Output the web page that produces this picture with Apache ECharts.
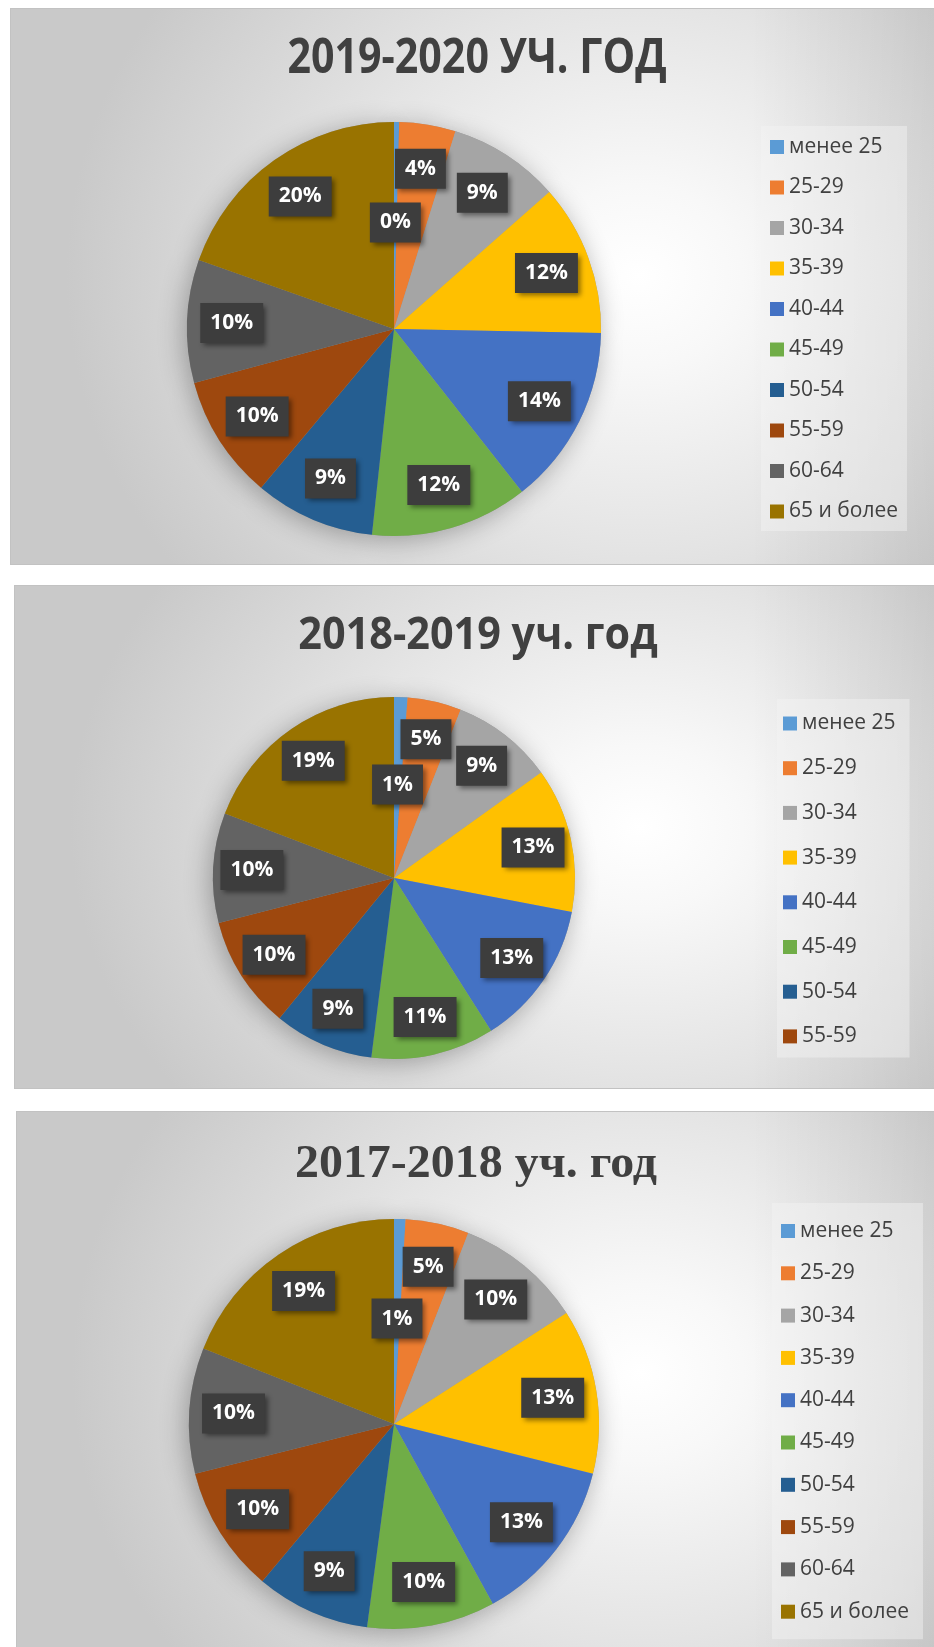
<!DOCTYPE html>
<html>
<head>
<meta charset="utf-8">
<script src="https://cdn.jsdelivr.net/npm/echarts@6/dist/echarts.min.js"></script>
<style>
  html, body { margin: 0; padding: 0; background: #fff; overflow: hidden; width: 934px; height: 1647px; }
  .panel {
    position: absolute;
    box-sizing: border-box;
    border: 1px solid #c2c2c2;
    border-right: none;
    background:
      linear-gradient(to right, rgba(0,0,0,0) 80%, rgba(0,0,0,0.08) 100%),
      radial-gradient(ellipse 62% 90% at 68% 48%, #ffffff 0%, #f8f8f8 18%, #e4e4e4 55%, #c9c9c9 100%);
  }
  .panel .chart { position: absolute; left: 0; top: 0; right: 0; bottom: 0; }
  #p1 { left: 10px; top: 8px; width: 924px; height: 557px; }
  #p2 { left: 14px; top: 585px; width: 920px; height: 504px; }
  #p3 { left: 16px; top: 1111px; width: 918px; height: 545px; }
</style>
</head>
<body>
<div class="panel" id="p1"><div class="chart" id="chart-2019"></div></div>
<div class="panel" id="p2"><div class="chart" id="chart-2018"></div></div>
<div class="panel" id="p3"><div class="chart" id="chart-2017"></div></div>
<script>
var ageGroups = ['менее 25', '25-29', '30-34', '35-39', '40-44', '45-49', '50-54', '55-59', '60-64', '65 и более'];
var ageColors = ['#5B9BD5', '#ED7D31', '#A5A5A5', '#FFC000', '#4472C4', '#70AD47', '#255E91', '#9E480E', '#636363', '#997300'];

// share of teachers by age group, %
var share2019 = [0.4, 4.4, 8.7, 11.8, 14.1, 12.3, 9.4, 9.7, 9.6, 19.6];
var share2018 = [1.2, 4.8, 9.1, 12.9, 13.0, 11.0, 8.9, 10.1, 9.8, 19.2];
var share2017 = [0.9, 5.0, 10.0, 13.0, 13.1, 10.1, 9.0, 10.0, 9.9, 19.0];

var titles = ['2019-2020 УЧ. ГОД', '2018-2019 уч. год', '2017-2018 уч. год'];
// the middle chart's legend is cut off after 55-59
var legend2019 = ageGroups;
var legend2018 = ageGroups.slice(0, 8);
var legend2017 = ageGroups;

(function() {
  var ink = '#404040';

  function pctLabel(p) { return Math.round(p.percent) + '%'; }

  var labelBox = {
    position: 'inside',
    formatter: pctLabel,
    color: '#ffffff',
    fontFamily: 'Open Sans, sans-serif',
    fontWeight: 'bold',
    fontSize: 21,
    lineHeight: 22,
    backgroundColor: '#3d3d3d',
    padding: [9, 10, 9, 10],
    shadowColor: 'rgba(0,0,0,0.45)',
    shadowBlur: 5,
    shadowOffsetX: 3,
    shadowOffsetY: 3
  };

  function makeOption(cfg) {
    var r = cfg.radius;
    // main pie only labels the first (tiny) slice, at half radius
    var mainData = cfg.values.map(function(v, i) {
      return { name: ageGroups[i], value: v, label: { show: i === 0 } };
    });
    // transparent ring carries the other labels further out
    var ringData = cfg.values.map(function(v, i) {
      return { name: ageGroups[i], value: v, label: { show: i !== 0 } };
    });
    var shadowData = cfg.values.map(function(v, i) {
      return { name: ageGroups[i], value: v };
    });
    return {
      animation: false,
      color: ageColors,
      // title drawn as graphic text so it can be squeezed horizontally
      graphic: [{
        type: 'text',
        x: cfg.titleX,
        y: cfg.titleY,
        scaleX: cfg.titleScale,
        silent: true,
        style: {
          text: cfg.title,
          fill: ink,
          font: 'bold ' + cfg.titleSize + 'px ' + cfg.titleFont,
          align: 'center',
          verticalAlign: 'middle',
          textAlign: 'center',
          textVerticalAlign: 'middle'
        }
      }],
      legend: {
        orient: 'vertical',
        data: cfg.legend,
        left: cfg.legendX,
        top: cfg.legendY,
        itemWidth: 14,
        itemHeight: 14,
        itemGap: cfg.legendGap,
        icon: 'rect',
        selectedMode: false,
        padding: cfg.legendPad,
        backgroundColor: 'rgba(245,245,245,0.45)',
        textStyle: { color: ink, fontFamily: 'Open Sans, sans-serif', fontSize: 21 }
      },
      series: [
        {
          type: 'pie',
          z: 3,
          silent: true,
          center: cfg.center,
          radius: [0, r],
          startAngle: 90,
          data: mainData,
          label: labelBox,
          labelLine: { show: false }
        },
        {
          type: 'pie',
          z: 4,
          silent: true,
          center: cfg.center,
          radius: [r * 0.54, r],
          startAngle: 90,
          data: ringData,
          itemStyle: { color: 'rgba(0,0,0,0)' },
          label: labelBox,
          labelLine: { show: false }
        },
        {
          type: 'pie',
          z: 1,
          silent: true,
          center: cfg.center,
          radius: [0, r],
          startAngle: 90,
          data: shadowData,
          itemStyle: {
            color: '#9a9a9a',
            shadowColor: 'rgba(0,0,0,0.3)',
            shadowBlur: 26,
            shadowOffsetX: -3,
            shadowOffsetY: 4
          },
          label: { show: false },
          labelLine: { show: false }
        }
      ]
    };
  }

  var sans = "'Open Sans', sans-serif";
  var serif = "'Liberation Serif', 'Times New Roman', serif";

  var chart2019 = echarts.init(document.getElementById('chart-2019'));
  chart2019.setOption(makeOption({
    title: titles[0], titleX: 466, titleY: 50, titleFont: sans, titleSize: 49, titleScale: 0.84,
    values: share2019, center: [383, 320], radius: 207,
    legend: legend2019, legendX: 750, legendY: 117, legendGap: 19.5, legendPad: [10.5, 9, 9, 9]
  }));

  var chart2018 = echarts.init(document.getElementById('chart-2018'));
  chart2018.setOption(makeOption({
    title: titles[1], titleX: 463, titleY: 50, titleFont: sans, titleSize: 44, titleScale: 0.94,
    values: share2018, center: [379, 292], radius: 181,
    legend: legend2018, legendX: 762, legendY: 113, legendGap: 23.7, legendPad: [14, 14, 10.5, 6]
  }));

  var chart2017 = echarts.init(document.getElementById('chart-2017'));
  chart2017.setOption(makeOption({
    title: titles[2], titleX: 459, titleY: 53, titleFont: serif, titleSize: 47, titleScale: 1.02,
    values: share2017, center: [377, 312], radius: 205,
    legend: legend2017, legendX: 755, legendY: 91, legendGap: 21.3, legendPad: [17.5, 14, 17, 9]
  }));

  window.addEventListener('resize', function() {
    chart2019.resize(); chart2018.resize(); chart2017.resize();
  });
})();
</script>
</body>
</html>
